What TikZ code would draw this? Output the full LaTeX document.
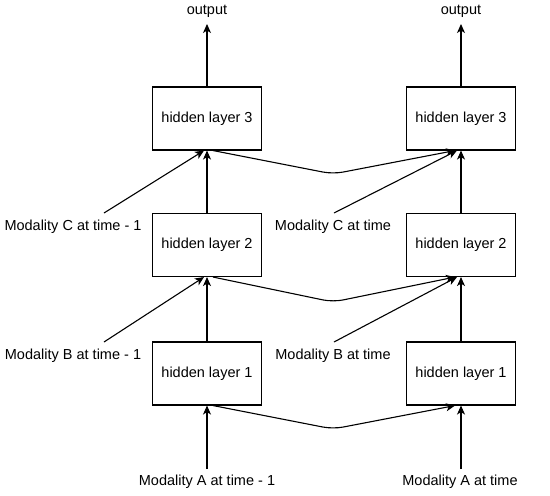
\documentclass[tikz,border=0pt]{standalone}
\usepackage{fontspec}
\setmainfont{Liberation Sans}
\usetikzlibrary{arrows.meta,calc}
\begin{document}
\begin{tikzpicture}[x=1pt,y=-1pt,
  box/.style={draw,line width=1.1pt,minimum width=109pt,minimum height=63pt,inner sep=0pt,font=\fontsize{14.5}{16}\selectfont},
  lbl/.style={inner sep=0pt,font=\fontsize{14.5}{16}\selectfont},
  arr/.style={line width=1.1pt,-{Stealth[length=9pt,width=8pt,inset=2.5pt]}},
  cross/.style={arr,rounded corners=10pt}]
\useasboundingbox (0,0) rectangle (550,496);
% boxes
\node[box] (h3a) at (207,118.5) {hidden layer 3};
\node[box] (h2a) at (207,245) {hidden layer 2};
\node[box] (h1a) at (207,373.5) {hidden layer 1};
\node[box] (h3b) at (461,118.5) {hidden layer 3};
\node[box] (h2b) at (461,245) {hidden layer 2};
\node[box] (h1b) at (461,373.5) {hidden layer 1};
% labels
\node[lbl] (oa) at (207,11) {output};
\node[lbl] (ob) at (461,11) {output};
\node[lbl] (ca) at (73,227) {Modality C at time - 1};
\node[lbl] (cb) at (333,227) {Modality C at time};
\node[lbl] (ba) at (73,356) {Modality B at time - 1};
\node[lbl] (bb) at (333,356) {Modality B at time};
\node[lbl] (aa) at (207,482) {Modality A at time - 1};
\node[lbl] (ab) at (460,482) {Modality A at time};
% free ends
\coordinate (oaE) at (207,24);
\coordinate (obE) at (461,24);
\coordinate (caS) at (104,213);
\coordinate (cbS) at (334,213);
\coordinate (baS) at (104,342);
\coordinate (bbS) at (334,342);
\coordinate (aaS) at (207,469);
\coordinate (abS) at (461,469);
% vertical arrows
\draw[arr] (h3a.north) -- (oaE);
\draw[arr] (h3b.north) -- (obE);
\draw[arr] (h2a.north) -- (h3a.south);
\draw[arr] (h2b.north) -- (h3b.south);
\draw[arr] (h1a.north) -- (h2a.south);
\draw[arr] (h1b.north) -- (h2b.south);
\draw[arr] (aaS) -- (h1a.south);
\draw[arr] (abS) -- (h1b.south);
% modality inputs
\draw[arr] (caS) -- ([xshift=-3pt]h3a.south);
\draw[arr] (cbS) -- ([xshift=-4pt]h3b.south);
\draw[arr] (baS) -- ([xshift=-3pt]h2a.south);
\draw[arr] (bbS) -- ([xshift=-4pt]h2b.south);
% temporal connections
\draw[cross] ([xshift=6pt]h3a.south) -- (333,174) -- ([xshift=-6pt]h3b.south);
\draw[cross] ([xshift=6pt]h2a.south) -- (333,302) -- ([xshift=-6pt]h2b.south);
\draw[cross] ([xshift=6pt]h1a.south) -- (333,429) -- ([xshift=-6pt]h1b.south);
\end{tikzpicture}
\end{document}
